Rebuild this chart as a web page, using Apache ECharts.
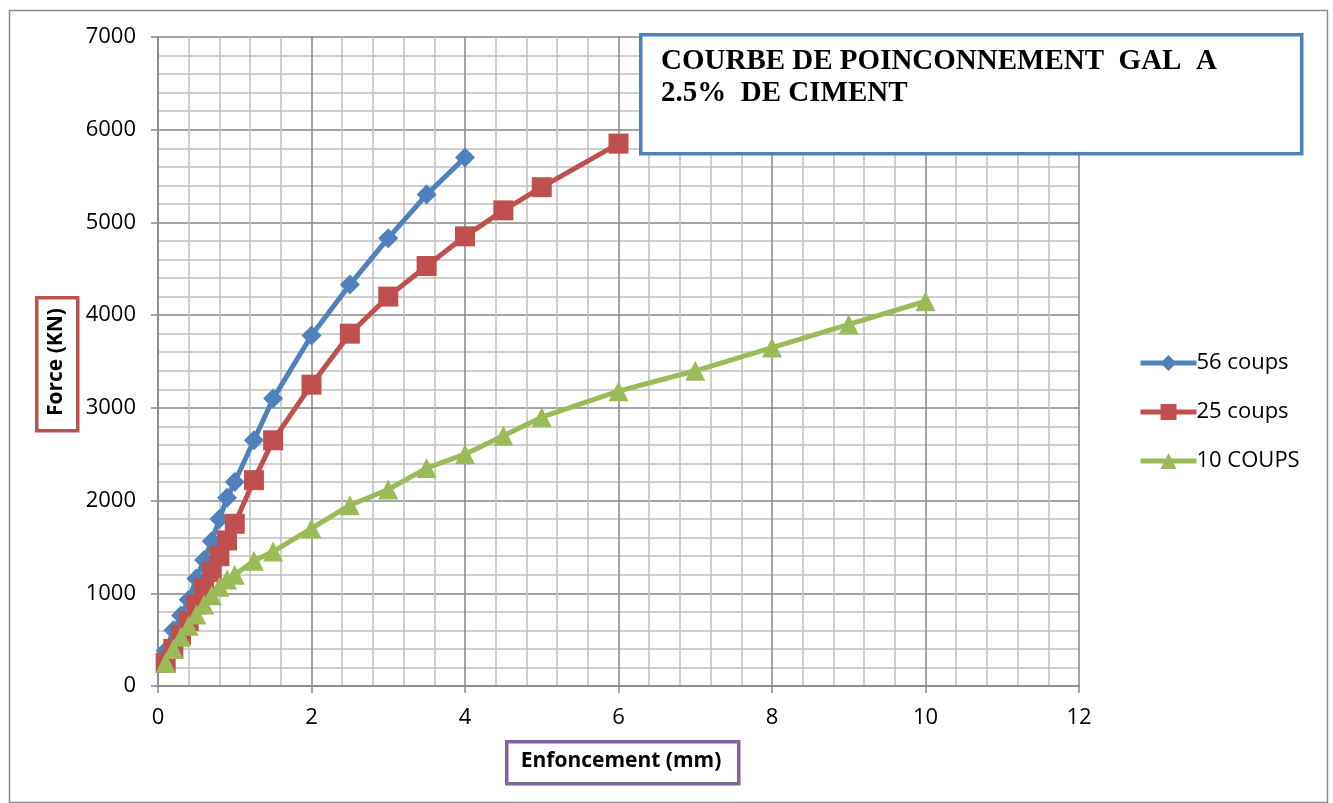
<!DOCTYPE html>
<html><head><meta charset="utf-8">
<script src="https://cdn.jsdelivr.net/npm/echarts@6/dist/echarts.min.js"></script>
<style>html,body{margin:0;padding:0;background:#fff}#c{width:1333px;height:803px}</style>
</head><body><div id="c"></div>
<script>
const x56 = [0.1,0.2,0.3,0.4,0.5,0.6,0.7,0.8,0.9,1.0,1.25,1.5,2,2.5,3,3.5,4];
const y56 = [380,600,760,930,1160,1360,1560,1800,2030,2200,2650,3100,3780,4330,4830,5300,5700];
const x25 = [0.1,0.2,0.3,0.4,0.5,0.6,0.7,0.8,0.9,1.0,1.25,1.5,2,2.5,3,3.5,4,4.5,5,6];
const y25 = [250,400,550,700,880,1050,1230,1400,1570,1750,2220,2650,3250,3800,4200,4530,4850,5130,5380,5850];
const x10 = [0.1,0.2,0.3,0.4,0.5,0.6,0.7,0.8,0.9,1.0,1.25,1.5,2,2.5,3,3.5,4,4.5,5,6,7,8,9,10];
const y10 = [250,400,530,650,770,880,980,1070,1150,1200,1350,1450,1700,1950,2120,2350,2500,2700,2900,3180,3400,3650,3900,4150];
const seriesNames = ['56 coups','25 coups','10 COUPS'];
const titleText = 'COURBE DE POINCONNEMENT  GAL  A\n2.5%  DE CIMENT';
const xName = 'Enfoncement (mm)';
const yName = 'Force (KN)';

const pair = (xs, ys) => xs.map((v, i) => [v, ys[i]]);
const chart = echarts.init(document.getElementById('c'));
const FONT = '"Open Sans", "Liberation Sans", sans-serif';
const mk = (name, data, color, symbol, size) => ({
  name, type: 'line', data, symbol, symbolSize: size,
  lineStyle: { color, width: 5 }, itemStyle: { color },
  emphasis: { disabled: true }
});
chart.setOption({
  animation: false,
  grid: { left: 158, right: 254, top: 37, bottom: 117 },
  xAxis: {
    type: 'value', min: 0, max: 12, interval: 2,
    axisLine: { onZero: false, lineStyle: { color: '#868686', width: 1.5 } },
    axisTick: { show: true, length: 7, lineStyle: { color: '#868686', width: 1.5 } },
    axisLabel: { color: '#000', fontSize: 22, fontFamily: FONT, margin: 21, formatter: v => String(v) },
    splitLine: { show: true, lineStyle: { color: '#868686', width: 1.5 } },
    minorTick: { show: true, splitNumber: 5, length: 0 },
    minorSplitLine: { show: true, lineStyle: { color: '#c0c0c0', width: 1.5 } }
  },
  yAxis: {
    type: 'value', min: 0, max: 7000, interval: 1000,
    axisLine: { show: true, lineStyle: { color: '#868686', width: 1.5 } },
    axisTick: { show: true, length: 7, lineStyle: { color: '#868686', width: 1.5 } },
    axisLabel: { color: '#000', fontSize: 22, fontFamily: FONT, margin: 22, formatter: v => String(v) },
    splitLine: { show: true, lineStyle: { color: '#868686', width: 1.5 } },
    minorTick: { show: true, splitNumber: 5, length: 0 },
    minorSplitLine: { show: true, lineStyle: { color: '#c0c0c0', width: 1.5 } }
  },
  legend: {
    orient: 'vertical', left: 1133, top: 347, itemGap: 27,
    itemWidth: 56, itemHeight: 20,
    lineStyle: { width: 5 },
    textStyle: { color: '#000', fontSize: 22, fontFamily: FONT, padding: [0,0,0,-5] },
    data: seriesNames
  },
  series: [
    mk(seriesNames[0], pair(x56, y56), '#4F81BD', 'diamond', 20),
    mk(seriesNames[1], pair(x25, y25), '#C0504D', 'rect', 20),
    mk(seriesNames[2], pair(x10, y10), '#9BBB59', 'triangle', 20)
  ],
  graphic: [
    { type: 'rect', left: 7, top: 8, shape: { width: 1318, height: 792 }, style: { fill: 'none', stroke: '#8a8a8a', lineWidth: 1.5 }, z: -10, silent: true },
    { type: 'rect', left: 639, top: 33, shape: { width: 661, height: 119 }, style: { fill: '#fff', stroke: '#4F81BD', lineWidth: 3.5 }, z: 10 },
    { type: 'text', left: 661, top: 46, z: 11, style: { text: titleText, fill: '#000', font: 'bold 29px "Liberation Serif", serif', lineHeight: 32 } },
    { type: 'rect', left: 35, top: 296, shape: { width: 41, height: 133 }, style: { fill: '#fff', stroke: '#C0504D', lineWidth: 3.5 }, z: 10 },
    { type: 'text', x: 56, y: 362, rotation: Math.PI / 2, z: 11, style: { text: yName, fill: '#000', font: 'bold 21px ' + FONT, align: 'center', verticalAlign: 'middle' } },
    { type: 'rect', left: 505, top: 740, shape: { width: 232, height: 42 }, style: { fill: '#fff', stroke: '#8064A2', lineWidth: 3.5 }, z: 10 },
    { type: 'text', x: 621, y: 761, z: 11, style: { text: xName, fill: '#000', font: 'bold 21px ' + FONT, align: 'center', verticalAlign: 'middle' } }
  ]
});
</script></body></html>
